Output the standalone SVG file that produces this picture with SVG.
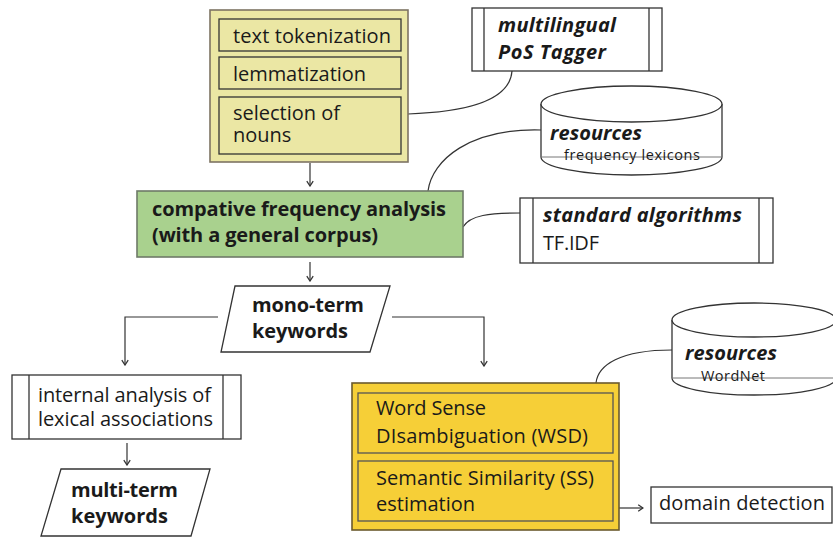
<svg xmlns="http://www.w3.org/2000/svg" width="833" height="538" viewBox="0 0 833 538">
<defs>
<style>
text{font-family:"Open Sans","Noto Sans","Liberation Sans",sans-serif;fill:#1a1a1a;}
.t{font-size:20px;}
.b{font-size:20px;font-weight:bold;}
.bi{font-size:20px;font-weight:bold;font-style:italic;}
.s{font-size:14.5px;}
.box{fill:#fff;stroke:#333;stroke-width:1.3;}
.ln{fill:none;stroke:#333;stroke-width:1.2;}
.thin{fill:none;stroke:#777;stroke-width:1;}
</style>
<marker id="ah" viewBox="0 0 10 10" refX="9" refY="5" markerWidth="8" markerHeight="8" markerUnits="userSpaceOnUse" orient="auto">
<path d="M3,1 L9,5 L3,9" fill="none" stroke="#333" stroke-width="1.6"/>
</marker>
</defs>

<g id="connectors">
<line class="ln" x1="310" y1="163" x2="310" y2="186" marker-end="url(#ah)"/>
<path class="ln" d="M408,114 C470,112 510,100 512,71"/>
<path class="ln" d="M541,130 C470,128 432,160 428,191"/>
<path class="ln" d="M463,227 C470,215 490,213 520,213"/>
<line class="ln" x1="310" y1="262" x2="310" y2="281" marker-end="url(#ah)"/>
<path class="ln" d="M218,317 H125 V365" marker-end="url(#ah)"/>
<path class="ln" d="M392,317 H484 V366" marker-end="url(#ah)"/>
<line class="ln" x1="127" y1="443" x2="127" y2="465" marker-end="url(#ah)"/>
<path class="ln" d="M672,350 C620,350 598,365 596,383"/>
<line class="ln" x1="619" y1="508" x2="643" y2="508" marker-end="url(#ah)"/>
</g>

<g id="preprocessing">
<rect x="210" y="10" width="198" height="152" fill="#ebe7a4" stroke="#7d7463" stroke-width="1.6"/>
<rect x="219" y="19" width="182" height="32" fill="#ebe7a4" stroke="#333" stroke-width="1.3"/>
<text class="t" x="233" y="43" textLength="158">text tokenization</text>
<rect x="219" y="57" width="182" height="32" fill="#ebe7a4" stroke="#333" stroke-width="1.3"/>
<text class="t" x="233" y="81" textLength="133">lemmatization</text>
<rect x="219" y="97" width="182" height="57" fill="#ebe7a4" stroke="#333" stroke-width="1.3"/>
<text class="t" x="233" y="120" textLength="107">selection of</text>
<text class="t" x="233" y="142">nouns</text>
</g>

<g id="pos-tagger">
<rect class="box" x="472" y="8" width="190" height="63"/>
<line class="box" x1="484" y1="8" x2="484" y2="71"/>
<line class="box" x1="649" y1="8" x2="649" y2="71"/>
<text class="bi" x="498" y="32" textLength="118">multilingual</text>
<text class="bi" x="498" y="59" textLength="108">PoS Tagger</text>
</g>

<g id="resources-frequency">
<path class="box" d="M541,104 V157 A90.5,18 0 0 0 722,157 V104"/>
<ellipse class="box" cx="631.5" cy="104" rx="90.5" ry="18"/>
<line class="thin" x1="541" y1="157" x2="722" y2="157"/>
<text class="bi" x="550" y="140" textLength="92">resources</text>
<text class="s" x="564" y="160" textLength="136">frequency lexicons</text>
</g>

<g id="frequency-analysis">
<rect x="137" y="191" width="326" height="66" fill="#a9d18e" stroke="#6e7a68" stroke-width="1.6"/>
<text class="b" x="152" y="216" textLength="294">compative frequency analysis</text>
<text class="b" x="152" y="242" textLength="226">(with a general corpus)</text>
</g>

<g id="standard-algorithms">
<rect class="box" x="520" y="198" width="253" height="65"/>
<line class="box" x1="533" y1="198" x2="533" y2="263"/>
<line class="box" x1="759" y1="198" x2="759" y2="263"/>
<text class="bi" x="543" y="222" textLength="199">standard algorithms</text>
<text class="t" x="543" y="250" textLength="56">TF.IDF</text>
</g>

<g id="mono-term">
<polygon class="box" points="235,286 390,286 370,352 221,352"/>
<text class="b" x="252" y="312" textLength="112">mono-term</text>
<text class="b" x="252" y="338" textLength="96">keywords</text>
</g>

<g id="internal-analysis">
<rect class="box" x="12" y="375" width="229" height="64"/>
<line class="box" x1="29" y1="375" x2="29" y2="439"/>
<line class="box" x1="223" y1="375" x2="223" y2="439"/>
<text class="t" x="38" y="402" textLength="173">internal analysis of</text>
<text class="t" x="38" y="426" textLength="175">lexical associations</text>
</g>

<g id="multi-term">
<polygon class="box" points="61,469 210,469 191,536 41,536"/>
<text class="b" x="71" y="497" textLength="107">multi-term</text>
<text class="b" x="71" y="523" textLength="97">keywords</text>
</g>

<g id="resources-wordnet">
<path class="box" d="M672,320 V378 A82,17 0 0 0 836,378 V320"/>
<ellipse class="box" cx="754" cy="320" rx="82" ry="17"/>
<line class="thin" x1="672" y1="378" x2="836" y2="378"/>
<text class="bi" x="685" y="360" textLength="92">resources</text>
<text class="s" x="701" y="381" textLength="64">WordNet</text>
</g>

<g id="semantic">
<rect x="352" y="383" width="267" height="147" fill="#f6cf37" stroke="#6b5a2e" stroke-width="1.6"/>
<rect x="358" y="393" width="255" height="60" fill="#f6cf37" stroke="#555" stroke-width="1.3"/>
<text class="t" x="376" y="415" textLength="110">Word Sense</text>
<text class="t" x="376" y="443" textLength="212">DIsambiguation (WSD)</text>
<rect x="358" y="461" width="255" height="60" fill="#f6cf37" stroke="#555" stroke-width="1.3"/>
<text class="t" x="376" y="485" textLength="218">Semantic Similarity (SS)</text>
<text class="t" x="376" y="511">estimation</text>
</g>

<g id="domain-detection">
<rect class="box" x="651" y="487" width="181" height="36"/>
<text class="t" x="659" y="510" textLength="166">domain detection</text>
</g>
</svg>
